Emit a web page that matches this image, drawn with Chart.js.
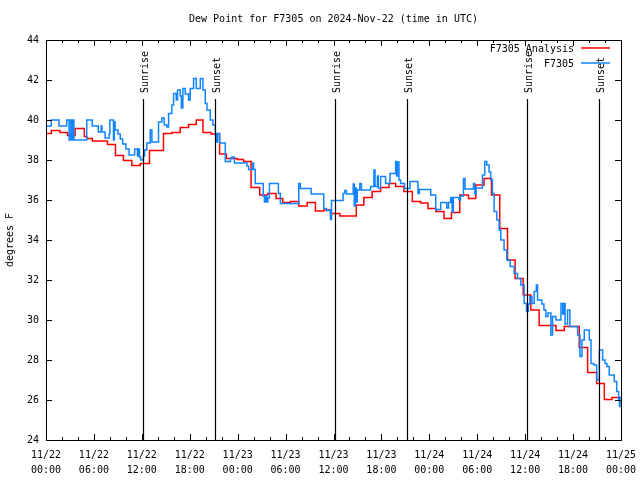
<!DOCTYPE html>
<html>
<head>
<meta charset="utf-8">
<script src="https://cdn.jsdelivr.net/npm/chart.js@4.4.1/dist/chart.umd.min.js"></script>
<style>
  body { margin: 0; background: #fff; }
  canvas { display: block; }
</style>
</head>
<body>
<canvas id="myChart" width="640" height="480"></canvas>
<script>
// hours since 11/22 00:00 UTC
let tickDates = ['11/22', '11/22', '11/22', '11/22', '11/23', '11/23', '11/23', '11/23', '11/24', '11/24', '11/24', '11/24', '11/25'];
let tickTimes = ['00:00', '06:00', '12:00', '18:00', '00:00', '06:00', '12:00', '18:00', '00:00', '06:00', '12:00', '18:00', '00:00'];

let sunHours = [12.2, 21.2, 36.22, 45.22, 60.24, 69.22];
let sunLabels = ['Sunrise', 'Sunset', 'Sunrise', 'Sunset', 'Sunrise', 'Sunset'];

let analysisHours = [0, 0.67, 1.75, 2.7, 3.65, 4.8, 5.1, 5.8, 7.7, 8.7, 9.7, 10.75, 11.8, 12.96, 14.71, 15.77, 16.81, 17.85, 18.82, 19.66, 20.66, 21.74, 22.58, 23.92, 24.75, 25.68, 26.76, 27.76, 28.81, 29.64, 30.61, 31.65, 32.7, 33.74, 34.78, 35.62, 36.79, 38.85, 39.8, 40.85, 41.9, 42.94, 43.78, 44.82, 45.87, 46.91, 47.83, 48.8, 49.84, 50.77, 51.81, 52.9, 53.81, 54.85, 55.78, 56.82, 57.79, 58.74, 59.75, 60.71, 61.75, 63.85, 64.89, 66.77, 67.82, 68.95, 69.91, 70.87, 72];
let analysisValues = [39.33, 39.48, 39.38, 39.23, 39.58, 39.17, 39.08, 38.95, 38.78, 38.23, 37.98, 37.73, 37.83, 38.47, 39.33, 39.38, 39.63, 39.78, 40.0, 39.38, 39.3, 38.3, 38.08, 38.03, 37.92, 36.63, 36.25, 36.33, 36.08, 35.87, 35.93, 35.7, 35.88, 35.45, 35.5, 35.33, 35.2, 35.75, 36.13, 36.42, 36.63, 36.83, 36.67, 36.42, 35.92, 35.85, 35.58, 35.42, 35.08, 35.37, 36.25, 36.08, 36.75, 37.08, 36.25, 34.58, 33.0, 32.08, 31.25, 30.5, 29.73, 29.48, 29.67, 28.63, 27.38, 26.83, 26.03, 26.12, 26.12];

let stationHours = [0, 0.66, 1.63, 2.6, 2.9, 3.0, 3.2, 3.35, 3.5, 5.1, 5.8, 6.55, 6.9, 7.0, 7.4, 7.9, 8.0, 8.45, 8.55, 8.65, 9.0, 9.3, 9.6, 10.0, 10.4, 11.1, 11.45, 11.55, 11.7, 11.85, 12.2, 12.35, 12.63, 13.05, 13.26, 14.09, 14.5, 14.8, 15.14, 15.35, 15.76, 15.97, 16.3, 16.47, 16.81, 16.95, 17.14, 17.44, 17.85, 18.06, 18.48, 18.82, 19.32, 19.65, 19.94, 20.16, 20.57, 20.9, 21.2, 21.35, 21.49, 21.74, 22.45, 23.1, 23.3, 23.58, 25.17, 25.37, 25.9, 26.0, 26.2, 27.2, 27.35, 27.5, 27.65, 27.78, 27.98, 29.1, 29.35, 31.65, 31.85, 33.2, 34.78, 35.12, 35.62, 35.75, 37.2, 37.4, 37.63, 38.47, 38.6, 38.75, 38.85, 38.97, 39.3, 39.5, 40.64, 41.06, 41.2, 41.5, 41.6, 41.9, 42.52, 43.07, 43.78, 43.9, 44.0, 44.2, 44.4, 44.9, 45.57, 46.58, 46.75, 48.17, 48.8, 48.92, 49.42, 50.18, 50.4, 50.68, 50.85, 51.0, 51.72, 51.9, 52.27, 52.47, 53.52, 53.7, 53.85, 54.65, 54.94, 55.19, 55.48, 55.69, 55.9, 56.11, 56.45, 56.74, 56.95, 57.36, 57.7, 58.12, 58.62, 59.04, 59.46, 59.87, 60.17, 60.4, 60.59, 60.85, 61.13, 61.4, 61.55, 62.09, 62.35, 62.59, 62.85, 63.22, 63.43, 63.85, 64.48, 64.7, 64.85, 65.0, 65.31, 65.6, 66.57, 66.86, 67.11, 67.4, 68.03, 68.24, 68.6, 68.95, 69.28, 69.7, 70.0, 70.24, 70.53, 71.16, 71.46, 71.71, 71.8, 71.87, 72];
let stationValues = [39.7, 40.0, 39.7, 40.0, 39.0, 40.0, 39.0, 40.0, 39.0, 40.0, 39.7, 39.4, 39.7, 39.4, 39.1, 39.3, 40.0, 39.0, 39.9, 39.5, 39.3, 39.05, 38.8, 38.55, 38.25, 38.55, 38.2, 38.55, 38.15, 38.0, 38.2, 38.5, 38.85, 39.5, 38.9, 39.9, 40.1, 39.75, 39.65, 40.33, 40.75, 41.33, 41.0, 41.5, 41.2, 40.6, 41.58, 41.3, 41.0, 41.58, 42.08, 41.58, 42.08, 41.5, 40.83, 40.5, 40.0, 39.75, 39.33, 38.9, 39.33, 38.85, 37.92, 38.1, 38.15, 37.85, 37.7, 37.53, 37.85, 37.53, 36.83, 36.2, 35.9, 36.2, 35.9, 36.1, 36.83, 36.33, 35.83, 36.83, 36.58, 36.3, 35.58, 35.47, 35.03, 35.97, 36.33, 36.47, 36.3, 36.8, 35.7, 36.6, 35.9, 36.5, 36.83, 36.5, 36.67, 37.5, 36.67, 37.2, 36.6, 37.17, 36.83, 37.33, 37.92, 37.2, 37.9, 37.0, 36.83, 36.58, 36.92, 36.33, 36.53, 36.25, 35.5, 35.53, 35.87, 35.6, 35.87, 36.13, 35.4, 36.13, 36.0, 36.2, 37.08, 36.55, 36.83, 36.3, 36.6, 37.25, 37.92, 37.75, 37.4, 37.0, 36.33, 35.42, 35.0, 34.5, 34.0, 33.5, 33.0, 32.67, 32.33, 32.08, 31.75, 30.83, 30.42, 30.8, 31.17, 30.83, 31.42, 31.75, 31.0, 30.8, 30.5, 30.17, 30.35, 29.25, 30.17, 30.0, 30.83, 30.3, 30.83, 29.8, 30.5, 29.67, 29.25, 28.17, 29.0, 29.5, 29.0, 27.83, 27.75, 27.0, 28.5, 28.0, 27.83, 27.67, 27.25, 26.92, 26.42, 26.0, 25.67, 26.1, 26.1];

const mono = 'DejaVu Sans Mono';

function toPoints(xs, ys) {
    return xs.map((x, i) => ({x: x, y: ys[i]}));
}

// gnuplot style frame: border box, inward ticks, sun markers, key
const gnuplotFrame = {
    id: 'gnuplotFrame',
    afterDatasetsDraw(chart) {
        const ctx = chart.ctx;
        const a = chart.chartArea;
        const xs = chart.scales.x;
        const ys = chart.scales.y;
        ctx.save();

        // sunrise / sunset lines and labels
        ctx.strokeStyle = '#000';
        ctx.lineWidth = 1.2;
        ctx.fillStyle = '#000';
        ctx.font = '10px ' + mono;
        sunHours.forEach((h, i) => {
            const px = Math.round(xs.getPixelForValue(h)) + 0.5;
            ctx.beginPath();
            ctx.moveTo(px, 99);
            ctx.lineTo(px, a.bottom);
            ctx.stroke();
            ctx.save();
            ctx.translate(px + 4, 93);
            ctx.rotate(-Math.PI / 2);
            ctx.textAlign = 'left';
            ctx.textBaseline = 'alphabetic';
            ctx.fillText(sunLabels[i], 0, 0);
            ctx.restore();
        });

        // border
        ctx.lineWidth = 1;
        ctx.strokeRect(a.left + 0.5, a.top + 0.5, a.right - a.left, a.bottom - a.top);

        // ticks (inward, mirrored)
        ctx.beginPath();
        for (let h = 0; h <= 72; h += 2) {
            const px = Math.round(xs.getPixelForValue(h)) + 0.5;
            const len = (h % 6 === 0) ? 6 : 3;
            ctx.moveTo(px, a.bottom);
            ctx.lineTo(px, a.bottom - len);
            ctx.moveTo(px, a.top);
            ctx.lineTo(px, a.top + len);
        }
        for (let v = 24; v <= 44; v += 2) {
            const py = Math.round(ys.getPixelForValue(v)) + 0.5;
            ctx.moveTo(a.left, py);
            ctx.lineTo(a.left + 6, py);
            ctx.moveTo(a.right, py);
            ctx.lineTo(a.right - 6, py);
        }
        ctx.stroke();

        // key
        ctx.textAlign = 'right';
        ctx.textBaseline = 'middle';
        const keyOrder = [1, 0];
        keyOrder.forEach((di, row) => {
            const ds = chart.data.datasets[di];
            const y = 49 + row * 15;
            ctx.fillStyle = '#000';
            ctx.fillText(ds.label, 574, y);
            ctx.strokeStyle = ds.borderColor;
            ctx.lineWidth = 1.5;
            ctx.beginPath();
            ctx.moveTo(581, y - 1);
            ctx.lineTo(610, y - 1);
            ctx.stroke();
        });
        ctx.restore();
    }
};

new Chart('myChart', {
    type: 'line',
    data: {
        datasets: [{
            label: 'F7305',
            data: toPoints(stationHours, stationValues),
            borderColor: 'rgb(16,132,255)',
            borderWidth: 1.5,
            stepped: true,
            pointRadius: 0,
            fill: false,
            order: 1
        }, {
            label: 'F7305 Analysis',
            data: toPoints(analysisHours, analysisValues),
            borderColor: 'rgb(255,0,0)',
            borderWidth: 1.5,
            stepped: true,
            pointRadius: 0,
            fill: false,
            order: 2
        }]
    },
    options: {
        responsive: false,
        animation: false,
        devicePixelRatio: 1,
        layout: {padding: {left: 0, right: 19, top: 0, bottom: 0}},
        plugins: {
            legend: {display: false},
            tooltip: {enabled: false},
            title: {
                display: true,
                fullSize: false,
                text: 'Dew Point for F7305 on 2024-Nov-22 (time in UTC)',
                color: '#000',
                font: {family: mono, size: 10, weight: 'normal', lineHeight: 1.2},
                padding: {top: 13, bottom: 15}
            }
        },
        scales: {
            x: {
                type: 'linear',
                min: 0,
                max: 72,
                grid: {display: false, drawTicks: false},
                border: {display: false},
                ticks: {
                    stepSize: 6,
                    autoSkip: false,
                    maxRotation: 0,
                    padding: 8,
                    color: '#000',
                    font: {family: mono, size: 10, lineHeight: 1.5},
                    callback: value => [tickDates[value / 6], tickTimes[value / 6]]
                },
                afterFit: s => {
                    s.height = 40;
                    s.paddingLeft = 0;
                    s.paddingRight = 0;
                }
            },
            y: {
                min: 24,
                max: 44,
                grid: {display: false, drawTicks: false},
                border: {display: false},
                ticks: {
                    stepSize: 2,
                    padding: 7,
                    color: '#000',
                    font: {family: mono, size: 10}
                },
                title: {
                    display: true,
                    text: 'degrees F',
                    color: '#000',
                    font: {family: mono, size: 10},
                    padding: {top: 4, bottom: 0}
                },
                afterFit: s => {
                    s.width = 46;
                    s.paddingTop = 0;
                    s.paddingBottom = 0;
                }
            }
        }
    },
    plugins: [gnuplotFrame]
});
</script>
</body>
</html>
